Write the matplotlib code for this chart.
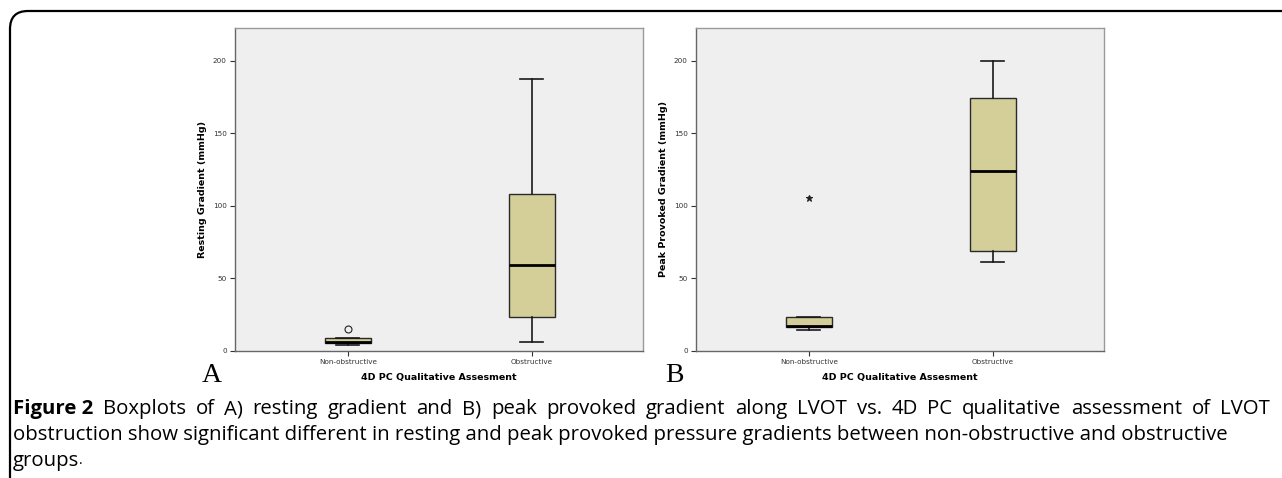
import matplotlib
matplotlib.use("Agg")
import matplotlib.pyplot as plt
from matplotlib.patches import FancyBboxPatch

# ── data ──
groups = ["Non-obstructive", "Obstructive"]

rest_whislo = [4, 6]
rest_q1 = [5, 23]
rest_med = [6, 59]
rest_q3 = [8.5, 108]
rest_whishi = [9, 187]
rest_fliers = [[15.2], []]

peak_whislo = [14, 61]
peak_q1 = [16.3, 69]
peak_med = [17, 124]
peak_q3 = [23, 174]
peak_whishi = [23, 200]
peak_fliers = [[105], []]

yticks = [0, 50, 100, 150, 200]

caption_1 = "Boxplots of A) resting gradient and B) peak provoked gradient along LVOT vs. 4D PC qualitative assessment of LVOT"
caption_2 = "obstruction show significant different in resting and peak provoked pressure gradients between non-obstructive and obstructive"
caption_3 = "groups"

BOX_COLOR = "#d4cf99"
FACE = "#efefef"
W, H = 1282, 478


def make_stats(whislo, q1, med, q3, whishi, fliers):
    return [dict(whislo=a, q1=b, med=c, q3=d, whishi=e, fliers=f, label=g)
            for a, b, c, d, e, f, g in zip(whislo, q1, med, q3, whishi, fliers, groups)]


fig = plt.figure(figsize=(12.82, 4.78), dpi=100)

# rounded frame around the whole figure
frame = FancyBboxPatch((0.10, -0.5), 13.0, 4.78 - 0.11 + 0.5,
                       boxstyle="round,pad=0,rounding_size=0.18",
                       transform=fig.dpi_scale_trans, fill=False,
                       edgecolor="black", linewidth=1.6)
fig.patches.append(frame)

panels = [
    (0.1833, make_stats(rest_whislo, rest_q1, rest_med, rest_q3, rest_whishi, rest_fliers),
     "Resting Gradient (mmHg)", "o", "A", 212),
    (0.5429, make_stats(peak_whislo, peak_q1, peak_med, peak_q3, peak_whishi, peak_fliers),
     "Peak Provoked Gradient (mmHg)", "*", "B", 674),
]

for x0, stats, ylab, flier_marker, letter, letter_x in panels:
    ax = fig.add_axes([x0, 0.2663, 0.3180, 0.6751])
    ax.set_facecolor(FACE)
    ax.bxp(stats, positions=[1, 2], widths=0.25, patch_artist=True,
           boxprops=dict(facecolor=BOX_COLOR, edgecolor="#2a2a2a", linewidth=1.0),
           medianprops=dict(color="black", linewidth=2.0),
           whiskerprops=dict(color="#1a1a1a", linewidth=1.2),
           capprops=dict(color="#1a1a1a", linewidth=1.2),
           capwidths=0.125,
           flierprops=dict(marker=flier_marker, markersize=5,
                           markerfacecolor="none" if flier_marker == "o" else "#222222",
                           markeredgecolor="#222222", markeredgewidth=0.8))
    ax.set_xlim(0.386, 2.603)
    ax.set_ylim(0, 222.5)
    ax.set_yticks(yticks)
    ax.tick_params(axis="both", labelsize=5.2, colors="#333333", length=3.5, width=0.8,
                   pad=2.5)
    ax.set_xticks([1, 2])
    ax.set_xticklabels(groups)
    for side in ["left", "bottom"]:
        ax.spines[side].set_color("#666666")
        ax.spines[side].set_linewidth(1.0)
    for side in ["top", "right"]:
        ax.spines[side].set_color("#999999")
        ax.spines[side].set_linewidth(1.0)
    ax.set_ylabel(ylab, fontsize=6.8, fontweight="bold", labelpad=4)
    ax.set_xlabel("4D PC Qualitative Assesment", fontsize=6.8, fontweight="bold", labelpad=6)
    fig.text(letter_x / W, 1 - 376 / H, letter, family="Liberation Serif",
             fontsize=20, ha="center", va="center")

# caption
FS = 14.7
cap_left, cap_right = 13, 1270
renderer = fig.canvas.get_renderer()

# line 1: bold lead-in plus justified words
y1 = 1 - 409 / H
lead = fig.text(cap_left / W, y1, "Figure 2", fontsize=FS, fontweight="bold",
                family="Open Sans", va="center")
words = caption_1.split()
word_artists = [fig.text(0, y1, w, fontsize=FS, family="Open Sans", va="center") for w in words]
lead_w = lead.get_window_extent(renderer).width
widths = [a.get_window_extent(renderer).width for a in word_artists]
gap = (cap_right - cap_left - lead_w - sum(widths)) / len(words)
x = cap_left + lead_w + gap
for a, w in zip(word_artists, widths):
    a.set_x(x / W)
    x += w + gap

fig.text(cap_left / W, 1 - 435 / H, caption_2, fontsize=FS, family="Open Sans", va="center")
g = fig.text(cap_left / W, 1 - 461 / H, caption_3, fontsize=FS, family="Open Sans", va="center")
gb = g.get_window_extent(renderer)
fig.text(gb.x1 / W, 1 - 461 / H, ".", fontsize=FS * 0.7, family="Open Sans", va="center")

fig.savefig("out.png", dpi=100)
